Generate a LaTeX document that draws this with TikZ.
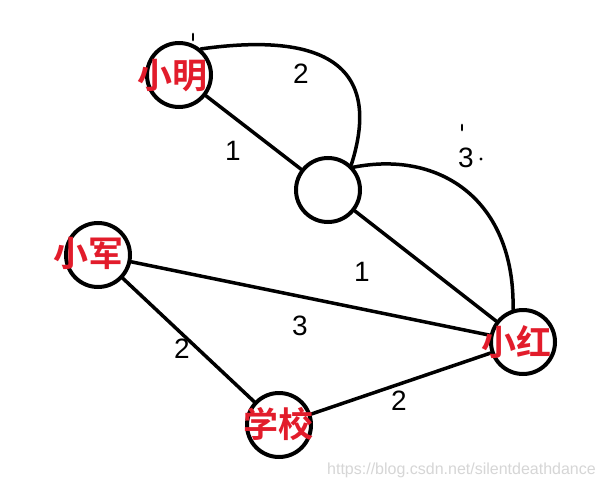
\documentclass[tikz,border=0pt]{standalone}
\usepackage{fontspec}
\setmainfont{Liberation Sans}
\newfontfamily\cjkbold[BoldFont={Noto Sans CJK SC Bold}]{Noto Sans CJK SC}
\definecolor{namered}{RGB}{226,28,43}
\definecolor{wm}{RGB}{214,214,214}
\begin{document}
\begin{tikzpicture}[x=1pt,y=-1pt,
  vtx/.style={circle,draw=black,line width=4pt,minimum size=64pt,inner sep=0pt},
  edge/.style={draw=black,line width=3.5pt,line cap=round},
  nametext/.style={text=namered,font=\cjkbold\bfseries\fontsize{35}{35}\selectfont,inner sep=0pt},
  num/.style={font=\fontsize{28}{28}\selectfont,text=black,inner sep=0pt},
  tick/.style={draw=black,line width=2.8pt,line cap=round}]
\useasboundingbox[fill=white] (0,0) rectangle (604,489);
% vertices
\node[vtx] (xm) at (179,75) {};
\node[vtx] (c)  at (328,190) {};
\node[vtx] (xj) at (98,255) {};
\node[vtx] (xx) at (279,425) {};
\node[vtx] (xh) at (523,342) {};
% edges
\draw[edge] (xm) -- (c);
\draw[edge] (xm.50) .. controls (300,35) and (388,50) .. (c.47);
\draw[edge] (c.42) .. controls (440,150) and (515,200) .. (xh.107);
\draw[edge] (c) -- (xh);
\draw[edge] (xj) -- (xh);
\draw[edge] (xj) -- (xx);
\draw[edge] (xx) -- (xh);
% names
\node[nametext] (txm) at (172,76) {小明};
\node[nametext] (txj) at (88,253) {小军};
\node[nametext] (txx) at (278,424) {学校};
\node[nametext] (txh) at (516,342) {小红};
% weights
\node[num] (w1) at (233,151) {1};
\node[num] (w2) at (301,74) {2};
\node[num] (w3) at (466,158) {3};
\node[num] (w4) at (362,272) {1};
\node[num] (w5) at (300,326) {3};
\node[num] (w6) at (182,349) {2};
\node[num] (w7) at (399,401) {2};
% small marks
\coordinate (t1) at (193,34);
\coordinate (t2) at (193,40);
\draw[tick] (t1) -- (t2);
\coordinate (t3) at (462,125);
\coordinate (t4) at (462,130);
\draw[tick] (t3) -- (t4);
\fill[black] (481,159) circle (1.6pt);
% watermark
\node[text=wm,font=\fontsize{16}{16}\selectfont,anchor=east,inner sep=0pt] (wmk) at (596,470) {https://blog.csdn.net/silentdeathdance};
\end{tikzpicture}
\end{document}
